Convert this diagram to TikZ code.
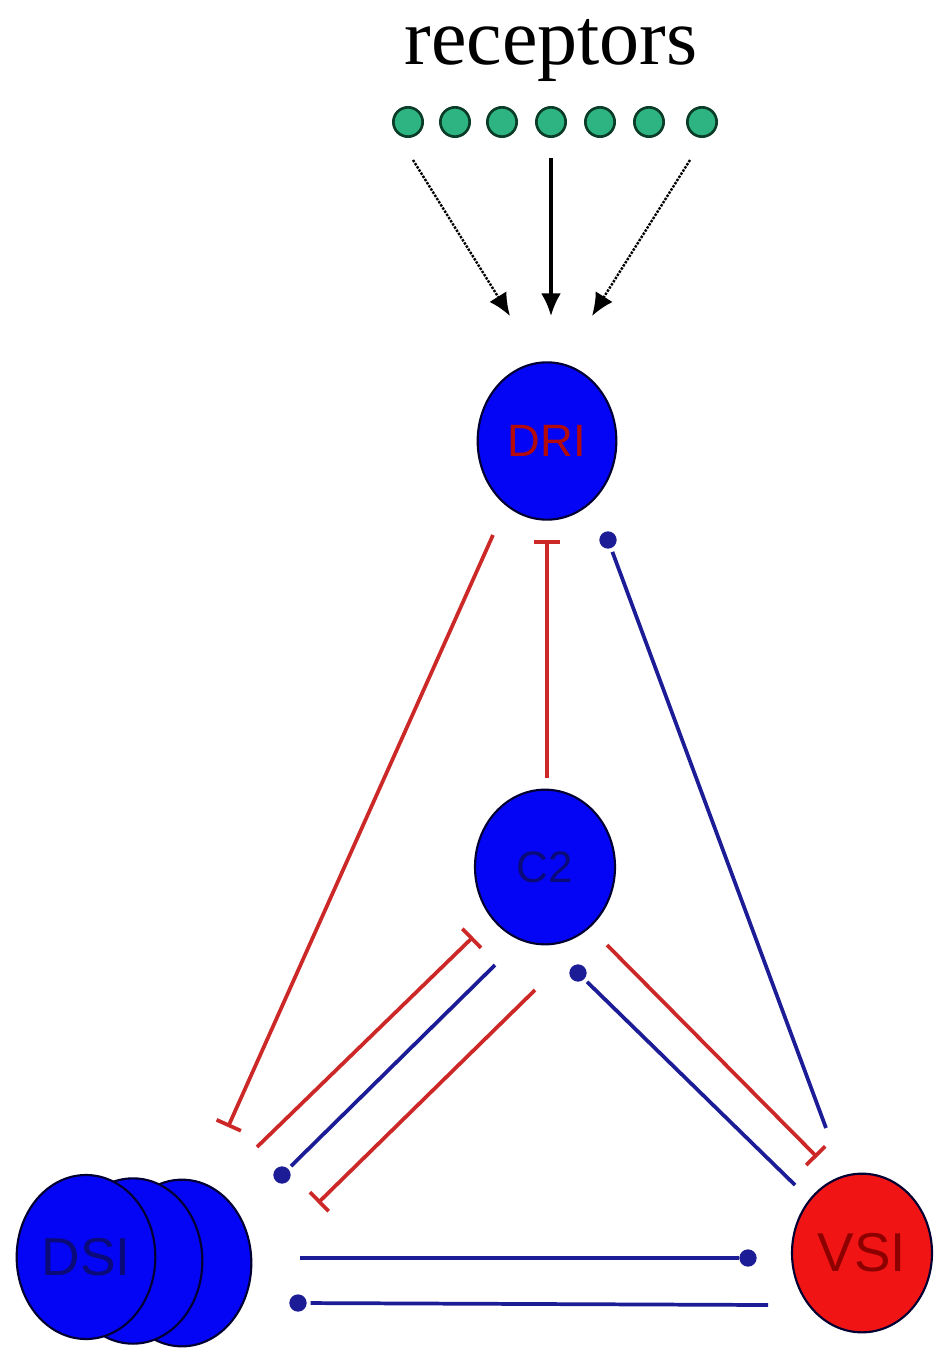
\documentclass[tikz,border=0pt]{standalone}
\usepackage{fontspec}
\setmainfont{Liberation Serif}
\newfontfamily\labfont{Liberation Sans}
\usetikzlibrary{shapes.geometric,arrows.meta}
\definecolor{cellblue}{RGB}{5,5,245}
\definecolor{cellred}{RGB}{240,20,20}
\definecolor{linered}{RGB}{205,40,40}
\definecolor{lineblue}{RGB}{28,28,150}
\definecolor{recfill}{RGB}{45,180,130}
\definecolor{recdraw}{RGB}{10,60,40}
\definecolor{txtred}{RGB}{180,10,10}
\definecolor{txtdred}{RGB}{140,0,0}
\definecolor{txtblue}{RGB}{10,10,120}
\tikzset{
  cell/.style={ellipse, draw=black!80!blue, line width=1.6pt, inner sep=0pt, font=\labfont},
  recdot/.style={circle, fill=recfill, draw=recdraw, line width=2pt, minimum size=22pt, inner sep=0pt},
  inh/.style={linered, line width=2.8pt, -{Bar[width=20pt,line width=2.8pt]}},
  exc/.style={lineblue, line width=2.8pt},
  tipdot/.style={circle, fill=lineblue, inner sep=0pt, minimum size=13pt, outer sep=3pt},
  feed/.style={black, line width=1.8pt, -{Latex[length=17pt,width=15pt]}},
}
\begin{document}
\begin{tikzpicture}[x=0.75pt,y=-0.75pt]
\useasboundingbox (0,0) rectangle (940,1352);
% title
\node (title) at (551,50) {\fontsize{60}{70}\selectfont receptors};
% receptor dots
\foreach \i/\x in {1/408,2/455,3/502,4/551,5/600,6/649,7/702}
  \node[recdot] (r\i) at (\x,122) {};
% feed arrows
\coordinate (a1s) at (413,160); \coordinate (a1e) at (510,316);
\coordinate (a2s) at (551,158); \coordinate (a2e) at (551,316);
\coordinate (a3s) at (690,160); \coordinate (a3e) at (592,316);
\draw[feed, densely dotted] (a1s) -- (a1e);
\draw[feed, line width=2.4pt] (a2s) -- (a2e);
\draw[feed, densely dotted] (a3s) -- (a3e);
% cells
\node[cell, fill=cellblue, minimum width=104pt, minimum height=118pt, text=txtred, font=\labfont\fontsize{34}{36}\selectfont] (DRI) at (547,441) {DRI};
\node[cell, fill=cellblue, minimum width=105pt, minimum height=116pt, text=txtblue, font=\labfont\fontsize{33}{36}\selectfont] (C2) at (545,867) {C2};
\node[cell, fill=cellblue, minimum width=104pt, minimum height=125pt] (DSIc) at (182,1263) {};
\node[cell, fill=cellblue, minimum width=104pt, minimum height=124pt] (DSIb) at (133,1261) {};
\node[cell, fill=cellblue, minimum width=104pt, minimum height=123pt, text=txtblue, font=\labfont\fontsize{40}{44}\selectfont] (DSI) at (86,1257) {DSI};
\node[cell, fill=cellred, minimum width=105pt, minimum height=119pt, text=txtdred, font=\labfont\fontsize{41}{44}\selectfont] (VSI) at (862,1253) {VSI};
% connector end points
\coordinate (p1s) at (493,535); \coordinate (p1e) at (228,1127);
\coordinate (p2s) at (547,778); \coordinate (p2e) at (547,540);
\coordinate (p4s) at (257,1147); \coordinate (p4e) at (473,937);
\coordinate (p6s) at (535,990); \coordinate (p6e) at (318,1203);
\coordinate (p7s) at (607,945); \coordinate (p7e) at (817,1157);
\coordinate (p3s) at (826,1128);
\coordinate (p5s) at (495,965);
\coordinate (p8s) at (795,1185);
\coordinate (p9s) at (300,1258);
\coordinate (p10s) at (768,1305);
% dots
\node[tipdot] (d3) at (608,540) {};
\node[tipdot] (d5) at (282,1175) {};
\node[tipdot] (d8) at (578,973) {};
\node[tipdot, outer sep=0pt] (d9) at (748,1258) {};
\node[tipdot] (d10) at (298,1303) {};
% inhibitory connectors
\draw[inh] (p1s) -- (p1e);
\draw[inh] (p2s) -- (p2e);
\draw[inh] (p4s) -- (p4e);
\draw[inh] (p6s) -- (p6e);
\draw[inh] (p7s) -- (p7e);
% excitatory connectors
\draw[exc] (p3s) -- (d3);
\draw[exc] (p5s) -- (d5);
\draw[exc] (p8s) -- (d8);
\draw[exc] (p9s) -- (d9);
\draw[exc] (p10s) -- (d10);
\end{tikzpicture}
\end{document}
